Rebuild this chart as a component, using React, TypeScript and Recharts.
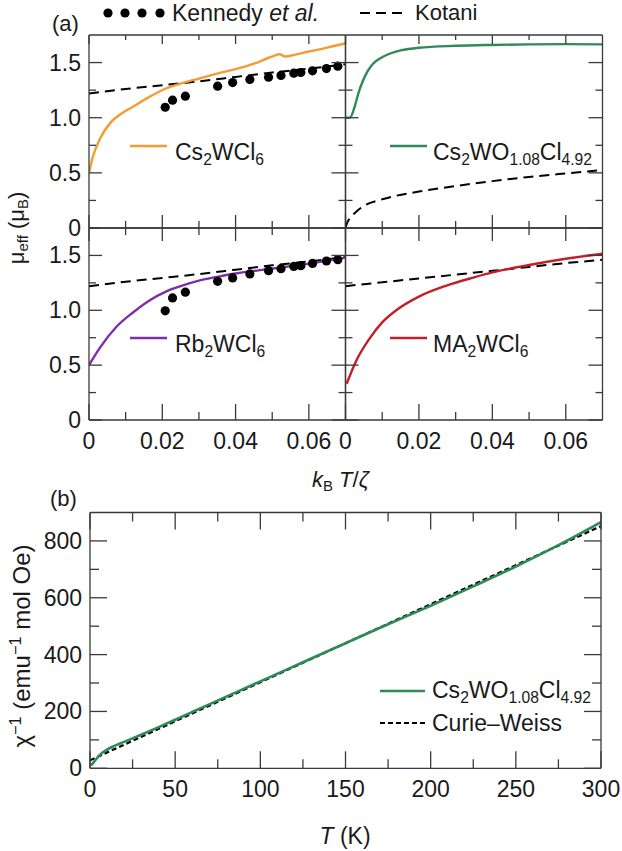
import React from "react";
import { ComposedChart, Line, Scatter, XAxis, YAxis } from "recharts";

const W = 622;
const H = 851;
const FONT = '"Liberation Sans", Arial, Helvetica, sans-serif';
const INK = "#1a1a1a";
const FRAME = "#3a3a3a";
const TICK_FS = 23;

const ORANGE = "#F39C33";
const GREEN = "#2E8B57";
const PURPLE = "#7D2FA6";
const RED = "#C0202C";

// ---- panel (a) axes
const kTTicks = [0, 0.01, 0.02, 0.03, 0.04, 0.05, 0.06];
const kTLabels = ["0", "", "0.02", "", "0.04", "", "0.06"];
const muTicks = [0, 0.25, 0.5, 0.75, 1.0, 1.25, 1.5];
const muLabels = ["0", "", "0.5", "", "1.0", "", "1.5"];

// ---- panel (b) axes
const tTicks = [0, 25, 50, 75, 100, 125, 150, 175, 200, 225, 250, 275, 300];
const tLabels = ["0", "", "50", "", "100", "", "150", "", "200", "", "250", "", "300"];
const chiTicks = [0, 100, 200, 300, 400, 500, 600, 700, 800];
const chiLabels = ["0", "", "200", "", "400", "", "600", "", "800"];

// ---- Cs2WCl6
const csX = [0, 0.001, 0.003, 0.006, 0.009, 0.012, 0.016, 0.021, 0.025, 0.03, 0.035, 0.04, 0.045, 0.05, 0.052, 0.0535, 0.056, 0.06, 0.065, 0.07];
const csY = [0.5, 0.64, 0.81, 0.96, 1.04, 1.1, 1.18, 1.265, 1.31, 1.355, 1.4, 1.44, 1.49, 1.555, 1.575, 1.555, 1.57, 1.6, 1.635, 1.675];

// ---- Kennedy et al. (upper and lower left)
const kenX = [0.0208, 0.0228, 0.0263, 0.0351, 0.0392, 0.0439, 0.049, 0.0524, 0.0559, 0.0578, 0.061, 0.0648, 0.0679];
const kenCsY = [1.095, 1.159, 1.195, 1.286, 1.319, 1.347, 1.368, 1.383, 1.404, 1.41, 1.425, 1.446, 1.467];
const kenRbY = [0.995, 1.113, 1.165, 1.264, 1.295, 1.331, 1.361, 1.379, 1.4, 1.407, 1.427, 1.449, 1.461];

// ---- Kotani curves
const kotX = [0, 0.01, 0.02, 0.03, 0.04, 0.05, 0.06, 0.07];
const kotLeftY = [1.22, 1.26, 1.295, 1.33, 1.37, 1.41, 1.445, 1.485];
const kotMaY = [1.22, 1.255, 1.29, 1.325, 1.36, 1.395, 1.43, 1.46];
const kotOxX = [0, 0.0005, 0.0015, 0.003, 0.005, 0.01, 0.02, 0.03, 0.04, 0.05, 0.06, 0.07];
const kotOxY = [0, 0.05, 0.1, 0.15, 0.2, 0.26, 0.33, 0.38, 0.425, 0.463, 0.495, 0.525];

// ---- Cs2WO1.08Cl4.92
const oxX = [0, 0.0012, 0.0025, 0.0035, 0.0047, 0.006, 0.0075, 0.0095, 0.012, 0.015, 0.02, 0.03, 0.04, 0.05, 0.06, 0.07];
const oxY = [1.0, 1.0, 1.1, 1.22, 1.33, 1.42, 1.49, 1.54, 1.58, 1.61, 1.635, 1.652, 1.66, 1.665, 1.667, 1.665];

// ---- Rb2WCl6
const rbX = [0, 0.003, 0.0075, 0.012, 0.0165, 0.021, 0.025, 0.03, 0.035, 0.04, 0.05, 0.06, 0.07];
const rbY = [0.5, 0.66, 0.85, 0.98, 1.09, 1.17, 1.22, 1.27, 1.305, 1.335, 1.38, 1.425, 1.48];

// ---- MA2WCl6
const maX = [0.0003, 0.003, 0.0065, 0.01, 0.014, 0.02, 0.0275, 0.035, 0.04, 0.05, 0.06, 0.07];
const maY = [0.33, 0.545, 0.74, 0.89, 1.005, 1.125, 1.225, 1.3, 1.345, 1.413, 1.47, 1.515];

// ---- panel (b): inverse susceptibility
const tempK = [0.5, 2, 4, 6, 8, 10, 14, 20, 30, 40, 50, 60, 80, 100, 125, 150, 175, 200, 225, 250, 275, 300];
const chiInv = [10, 20, 35, 48, 58, 66, 78, 93, 118, 144, 171, 198, 252, 306, 373, 440, 507, 572, 640, 710, 785, 866];
const cwT = [0, 300];
const cwChi = [28, 852];

const pts = (xs: number[], ys: number[]) => xs.map((x, i) => ({ x, y: ys[i] }));

type Side = "left" | "right" | "top" | "bottom";

function makeTick(side: Side, ticks: number[], labels: string[], show: boolean, major: number, minor: number) {
  return (props: any) => {
    const { x, y, payload } = props;
    const i = ticks.findIndex((t) => Math.abs(t - payload.value) < 1e-9);
    const lab = i >= 0 ? labels[i] : "";
    const len = lab ? major : minor;
    let x2 = x;
    let y2 = y;
    if (side === "left") x2 = x + len;
    if (side === "right") x2 = x - len;
    if (side === "top") y2 = y + len;
    if (side === "bottom") y2 = y - len;
    return (
      <g>
        <line x1={x} y1={y} x2={x2} y2={y2} stroke={FRAME} strokeWidth={1.3} />
        {show && lab && side === "left" && (
          <text x={x - 8} y={y + 8} textAnchor="end" fontSize={TICK_FS} fontFamily={FONT} fill={INK}>
            {lab}
          </text>
        )}
        {show && lab && side === "bottom" && (
          <text x={x} y={y + 29} textAnchor="middle" fontSize={TICK_FS} fontFamily={FONT} fill={INK}>
            {lab}
          </text>
        )}
      </g>
    );
  };
}

type Lens = { l: number[]; r: number[]; t: number[]; b: number[] };

function Panel(props: {
  box: number[];
  xDomain: number[];
  yDomain: number[];
  xTicks: number[];
  xLabels: string[];
  yTicks: number[];
  yLabels: string[];
  showX: boolean;
  showY: boolean;
  lens: Lens;
  children: React.ReactNode;
}) {
  const { box, xDomain, yDomain, xTicks, xLabels, yTicks, yLabels, showX, showY, lens } = props;
  const [l, t, r, b] = box;
  const axisLine = { stroke: FRAME, strokeWidth: 1.3 };
  return (
    <div style={{ position: "absolute", left: 0, top: 0 }}>
      <ComposedChart width={W} height={H} margin={{ left: l - 1, top: t - 1, right: W - r - 1, bottom: H - b - 1 }}>
        <XAxis type="number" dataKey="x" domain={xDomain} ticks={xTicks} interval={0} allowDataOverflow height={1}
          tickSize={0} tickMargin={0} tickLine={false} axisLine={axisLine}
          tick={makeTick("bottom", xTicks, xLabels, showX, lens.b[0], lens.b[1])} />
        <XAxis xAxisId="top" orientation="top" type="number" dataKey="x" domain={xDomain} ticks={xTicks} interval={0} allowDataOverflow height={1}
          tickSize={0} tickMargin={0} tickLine={false} axisLine={axisLine}
          tick={makeTick("top", xTicks, xLabels, false, lens.t[0], lens.t[1])} />
        <YAxis type="number" dataKey="y" domain={yDomain} ticks={yTicks} interval={0} allowDataOverflow width={1}
          tickSize={0} tickMargin={0} tickLine={false} axisLine={axisLine}
          tick={makeTick("left", yTicks, yLabels, showY, lens.l[0], lens.l[1])} />
        <YAxis yAxisId="right" orientation="right" type="number" dataKey="y" domain={yDomain} ticks={yTicks} interval={0} allowDataOverflow width={1}
          tickSize={0} tickMargin={0} tickLine={false} axisLine={axisLine}
          tick={makeTick("right", yTicks, yLabels, false, lens.r[0], lens.r[1])} />
        {props.children}
      </ComposedChart>
    </div>
  );
}

const dot = (p: any) => <circle cx={p.cx} cy={p.cy} r={4.6} fill="#000" />;

const curve = (data: { x: number; y: number }[], color: string, width = 2.4, dash?: string) => (
  <Line data={data} dataKey="y" type="monotone" stroke={color} strokeWidth={width} strokeDasharray={dash}
    dot={false} activeDot={false} isAnimationActive={false} />
);

const Sub = ({ children }: { children: React.ReactNode }) => (
  <span style={{ fontSize: "0.68em", verticalAlign: "-0.3em", lineHeight: 0 }}>{children}</span>
);
const Sup = ({ children }: { children: React.ReactNode }) => (
  <span style={{ fontSize: "0.68em", verticalAlign: "0.55em", lineHeight: 0 }}>{children}</span>
);

const Txt = ({ x, y, children, center, size = 22 }: { x: number; y: number; children: React.ReactNode; center?: boolean; size?: number }) => (
  <div style={{
    position: "absolute", left: x, top: y - 0.846 * size, fontSize: size, lineHeight: `${size}px`, whiteSpace: "nowrap",
    fontFamily: FONT, color: INK, transform: center ? "translateX(-50%)" : undefined,
  }}>
    {children}
  </div>
);

const VTxt = ({ cx, cy, children, size = 22 }: { cx: number; cy: number; children: React.ReactNode; size?: number }) => (
  <div style={{
    position: "absolute", left: cx, top: cy, fontSize: size, lineHeight: `${size}px`, whiteSpace: "nowrap",
    fontFamily: FONT, color: INK, transform: "translate(-50%, -50%) rotate(-90deg)",
  }}>
    {children}
  </div>
);

const lensTop: Lens = { l: [13, 7], r: [14, 7], t: [9, 5], b: [13, 7] };
const lensBottom: Lens = { l: [13, 7], r: [14, 7], t: [13, 7], b: [16, 8] };
const lensB: Lens = { l: [17, 9], r: [17, 9], t: [17, 9], b: [17, 9] };

const KOT_DASH = "10 6";
const CW_DASH = "5 3";

export default function App() {
  const aProps = { xDomain: [0, 0.07], yDomain: [0, 1.75], xTicks: kTTicks, xLabels: kTLabels, yTicks: muTicks, yLabels: muLabels };
  return (
    <div style={{ position: "absolute", left: 0, top: 0, width: W, height: H, background: "#fff", overflow: "hidden" }}>
      <Panel box={[89, 35, 345.5, 228]} {...aProps} showX={false} showY lens={lensTop}>
        {curve(pts(kotX, kotLeftY), "#000", 2, KOT_DASH)}
        {curve(pts(csX, csY), ORANGE)}
        <Scatter data={pts(kenX, kenCsY)} shape={dot} isAnimationActive={false} />
      </Panel>
      <Panel box={[345.5, 35, 602.5, 228]} {...aProps} showX={false} showY={false} lens={lensTop}>
        {curve(pts(kotOxX, kotOxY), "#000", 2, KOT_DASH)}
        {curve(pts(oxX, oxY), GREEN)}
      </Panel>
      <Panel box={[89, 228, 345.5, 420]} {...aProps} showX showY lens={lensBottom}>
        {curve(pts(kotX, kotLeftY), "#000", 2, KOT_DASH)}
        {curve(pts(rbX, rbY), PURPLE)}
        <Scatter data={pts(kenX, kenRbY)} shape={dot} isAnimationActive={false} />
      </Panel>
      <Panel box={[345.5, 228, 602.5, 420]} {...aProps} showX showY={false} lens={lensBottom}>
        {curve(pts(kotX, kotMaY), "#000", 2, KOT_DASH)}
        {curve(pts(maX, maY), RED)}
      </Panel>
      <Panel box={[90, 512.5, 601, 768.3]} xDomain={[0, 300]} yDomain={[0, 900]} xTicks={tTicks} xLabels={tLabels}
        yTicks={chiTicks} yLabels={chiLabels} showX showY lens={lensB}>
        {curve(pts(cwT, cwChi), "#000", 2.2, CW_DASH)}
        {curve(pts(tempK, chiInv), GREEN, 2.6)}
      </Panel>

      {/* legend samples */}
      <svg width={W} height={H} style={{ position: "absolute", left: 0, top: 0, pointerEvents: "none" }}>
        {[108, 125, 142, 160].map((cx) => <circle key={cx} cx={cx} cy={13} r={4.6} fill="#000" />)}
        <line x1={360} x2={405} y1={13} y2={13} stroke="#000" strokeWidth={2} strokeDasharray={KOT_DASH} />
        <line x1={130} x2={167} y1={146} y2={146} stroke={ORANGE} strokeWidth={2.4} />
        <line x1={390} x2={427} y1={146} y2={146} stroke={GREEN} strokeWidth={2.4} />
        <line x1={130} x2={167} y1={338} y2={338} stroke={PURPLE} strokeWidth={2.4} />
        <line x1={390} x2={427} y1={338} y2={338} stroke={RED} strokeWidth={2.4} />
        <line x1={380} x2={425} y1={691} y2={691} stroke={GREEN} strokeWidth={2.6} />
        <line x1={380} x2={425} y1={723} y2={723} stroke="#000" strokeWidth={2.2} strokeDasharray={CW_DASH} />
      </svg>

      <Txt x={52} y={32}>(a)</Txt>
      <Txt x={172} y={21} size={23}>Kennedy <i>et al.</i></Txt>
      <Txt x={415} y={21}>Kotani</Txt>
      <Txt x={175} y={160} size={23}>Cs<Sub>2</Sub>WCl<Sub>6</Sub></Txt>
      <Txt x={433} y={160} size={23}>Cs<Sub>2</Sub>WO<Sub>1.08</Sub>Cl<Sub>4.92</Sub></Txt>
      <Txt x={175} y={352} size={23}>Rb<Sub>2</Sub>WCl<Sub>6</Sub></Txt>
      <Txt x={433} y={352} size={23}>MA<Sub>2</Sub>WCl<Sub>6</Sub></Txt>
      <Txt x={312} y={488}><i>k</i><Sub>B</Sub> <i>T</i>/<i>ζ</i></Txt>
      <VTxt cx={17} cy={228}>μ<Sub>eff</Sub> (μ<Sub>B</Sub>)</VTxt>

      <Txt x={50} y={507}>(b)</Txt>
      <Txt x={432} y={698} size={23}>Cs<Sub>2</Sub>WO<Sub>1.08</Sub>Cl<Sub>4.92</Sub></Txt>
      <Txt x={432} y={731} size={23}>Curie–Weiss</Txt>
      <Txt x={345} y={844} center size={23}><i>T</i> (K)</Txt>
      <VTxt cx={22} cy={646} size={24}>χ<Sup>−1</Sup> (emu<Sup>−1</Sup> mol Oe)</VTxt>
    </div>
  );
}
